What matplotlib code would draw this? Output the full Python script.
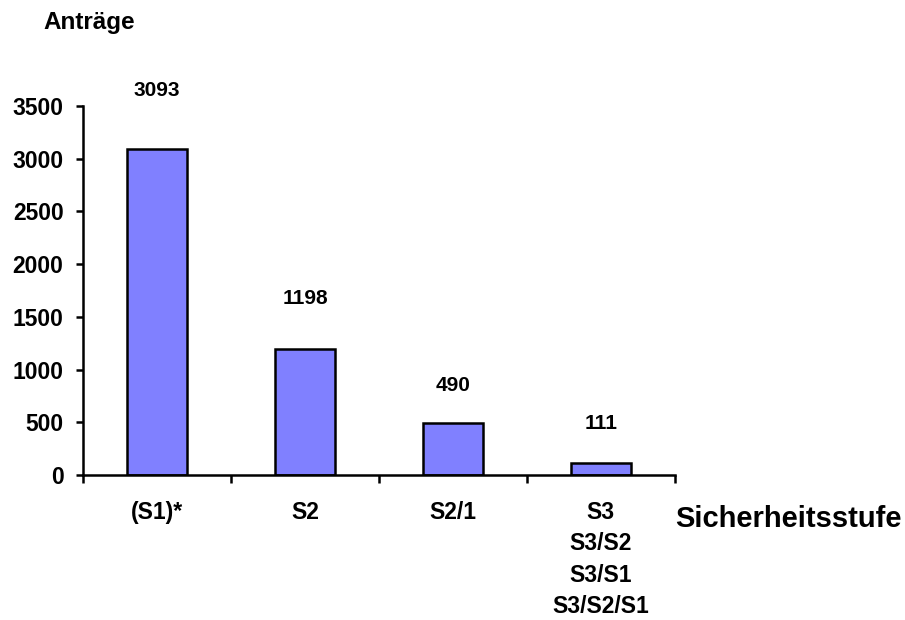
import matplotlib
matplotlib.use("Agg")
import matplotlib.pyplot as plt
import numpy as np

# --- Daten ---
kategorien = ["(S1)*", "S2", "S2/1", "S3\nS3/S2\nS3/S1\nS3/S2/S1"]
antraege = [3093, 1198, 490, 111]
y_ticks = [0, 500, 1000, 1500, 2000, 2500, 3000, 3500]

plt.rcParams['font.family'] = ['Liberation Sans', 'DejaVu Sans']
plt.rcParams['font.weight'] = 'bold'

fig = plt.figure(figsize=(9.05, 6.2), dpi=100)
ax = fig.add_axes([0.0917, 0.234, 0.654, 0.595])

x = np.arange(len(kategorien))
bars = ax.bar(x, antraege, width=0.41, color='#8080FF', edgecolor='black', linewidth=1.8)

# Werte über den Balken (Abstand der Grundlinie in Pixeln wie im Original)
offsets = [53, 45, 32, 34]
for rect, val, off in zip(bars, antraege, offsets):
    ax.annotate(str(val), (rect.get_x() + rect.get_width() / 2, rect.get_height()),
                xytext=(0, off), textcoords='offset pixels',
                ha='center', va='baseline', fontsize=15, fontweight='bold')

ax.set_xlim(-0.5, len(kategorien) - 0.5)
ax.set_ylim(0, 3500)
ax.set_yticks(y_ticks)
ax.set_yticklabels([str(t) for t in y_ticks], fontsize=16.5, fontweight='bold')

# x-Ticks an den Kategoriegrenzen, Beschriftungen in der Mitte
ax.set_xticks(np.arange(-0.5, len(kategorien)), minor=False)
ax.set_xticklabels([])
ax.set_xticks(x, minor=True)
ax.set_xticklabels(kategorien, minor=True, fontsize=16.5, fontweight='bold',
                   va='top', linespacing=1.45)
ax.tick_params(axis='x', which='minor', length=0, pad=19)
ax.tick_params(axis='x', which='major', direction='out', length=6, width=1.8)
ax.tick_params(axis='y', direction='out', length=5, width=1.8, pad=9)

for s in ['top', 'right']:
    ax.spines[s].set_visible(False)
for s in ['left', 'bottom']:
    ax.spines[s].set_linewidth(1.8)

fig.text(0.0475, 0.953, "Anträge", fontsize=17.5, fontweight='bold', ha='left', va='baseline')
fig.text(0.746, 0.1505, "Sicherheitsstufe", fontsize=21, fontweight='bold', ha='left', va='baseline')

fig.savefig("out.png", dpi=100)
